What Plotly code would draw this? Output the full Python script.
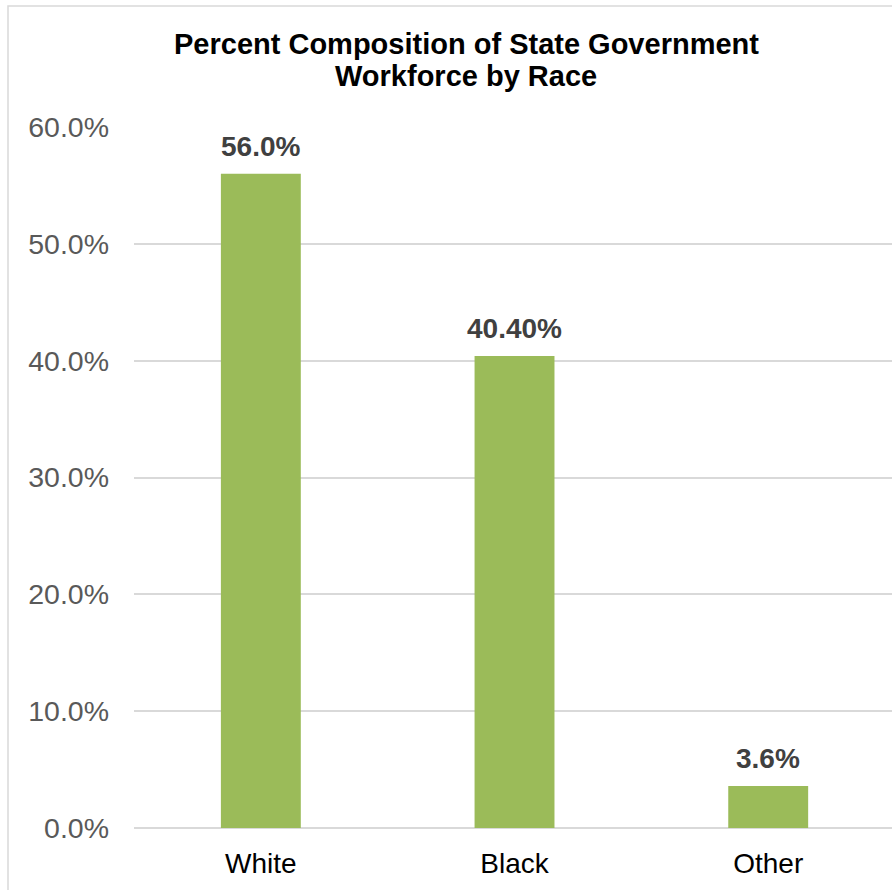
import plotly.graph_objects as go

# Workforce composition by race (percent of state government employees)
categories = ["White", "Black", "Other"]
values = [56.0, 40.4, 3.6]
value_labels = ["56.0%", "40.40%", "3.6%"]
y_ticks = [0, 10, 20, 30, 40, 50, 60]
y_tick_labels = ["0.0%", "10.0%", "20.0%", "30.0%", "40.0%", "50.0%", "60.0%"]
title_lines = ["Percent Composition of State Government", "Workforce by Race"]

FONT = "Arial, Liberation Sans, sans-serif"
BAR_COLOR = "#9BBB59"
GRID_COLOR = "#D9D9D9"

W, H = 892, 890
M_L, M_R, M_T, M_B = 134, 0, 127, 62

fig = go.Figure()
fig.add_trace(go.Bar(
    x=categories,
    y=values,
    marker=dict(color=BAR_COLOR, line=dict(width=0)),
    width=0.315,
    hoverinfo="skip",
))

# value labels above each bar
for cat, val, lab in zip(categories, values, value_labels):
    fig.add_annotation(
        x=cat, y=val, text=f"<b>{lab}</b>",
        showarrow=False, yanchor="bottom", yshift=10,
        font=dict(family=FONT, size=28, color="#404040"),
    )

# two-line chart title, set as separate lines for tighter line spacing
for i, (line, y_px) in enumerate(zip(title_lines, [44, 76.5])):
    fig.add_annotation(
        text=f"<b>{line}</b>",
        xref="paper", yref="paper",
        x=(466 - M_L) / (W - M_L - M_R), xanchor="center",
        y=(H - M_B - y_px) / (H - M_T - M_B), yanchor="middle",
        showarrow=False,
        font=dict(family=FONT, size=29, color="#000000"),
    )

# chart-area border (extends past the right and bottom edges)
plot_w = W - M_L - M_R
plot_h = H - M_T - M_B
fig.add_shape(
    type="rect", xref="paper", yref="paper",
    x0=(8 - M_L) / plot_w, x1=1.05,
    y0=-0.2, y1=(H - M_B - 6) / plot_h,
    line=dict(color=GRID_COLOR, width=1.5),
    fillcolor="rgba(0,0,0,0)", layer="below",
)

fig.update_layout(
    width=W, height=H,
    margin=dict(l=M_L, r=M_R, t=M_T, b=M_B, pad=0),
    paper_bgcolor="white", plot_bgcolor="white",
    showlegend=False,
    bargap=0.685,
    xaxis=dict(
        range=[-0.5, 2.488],
        showgrid=False, showline=False, zeroline=False,
        ticks="", ticklabelstandoff=16,
        tickfont=dict(family=FONT, size=28, color="#000000"),
    ),
    yaxis=dict(
        range=[0, 60],
        tickmode="array", tickvals=y_ticks, ticktext=y_tick_labels,
        showgrid=True, gridcolor=GRID_COLOR, gridwidth=1.5,
        zeroline=True, zerolinecolor=GRID_COLOR, zerolinewidth=1.5,
        showline=False, ticks="", ticklabelstandoff=24,
        tickfont=dict(family=FONT, size=28.5, color="#595959"),
    ),
)

fig.write_html("out.html")
